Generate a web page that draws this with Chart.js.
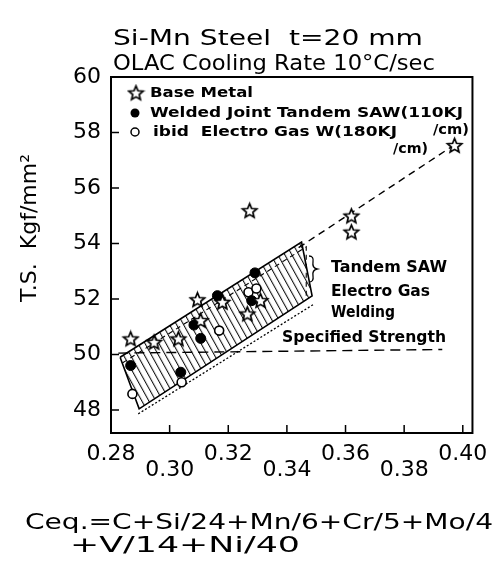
<!DOCTYPE html>
<html>
<head>
<meta charset="utf-8">
<script src="https://cdn.jsdelivr.net/npm/chart.js@4.4.1/dist/chart.umd.min.js"></script>
<style>
  html, body { margin: 0; padding: 0; background: #fff; }
</style>
</head>
<body>
<canvas id="ts" width="501" height="561"></canvas>
<script>
const FONT = '"DejaVu Sans", sans-serif';

// axis ticks
const xTicks = [0.28, 0.30, 0.32, 0.34, 0.36, 0.38, 0.40];
const yTicks = [48, 50, 52, 54, 56, 58, 60];

// base metal (stars)
const baseX = [0.2867, 0.2947, 0.3030, 0.3095, 0.3106, 0.3180, 0.3265, 0.3310, 0.3273, 0.3620, 0.3620, 0.3972];
const baseY = [50.56, 50.44, 50.56, 51.97, 51.22, 51.88, 51.46, 51.94, 55.18, 54.99, 54.41, 57.53];

// welded joint, tandem SAW (filled circles)
const sawX = [0.2867, 0.3038, 0.3083, 0.3106, 0.3163, 0.3280, 0.3291];
const sawY = [49.60, 49.36, 51.06, 50.58, 52.12, 51.94, 52.94];

// ibid, electro gas welding (open circles)
const egwX = [0.2873, 0.3041, 0.3169, 0.3269, 0.3296];
const egwY = [48.58, 49.00, 50.86, 52.24, 52.38];

// hatched scatter band of the welded joints
const bandX = [0.2831, 0.3450, 0.3486, 0.2896, 0.2831];
const bandY = [49.90, 54.05, 52.11, 48.04, 49.90];
const innerX = [0.2840, 0.3466, 0.3466];
const innerY = [49.70, 53.88, 52.05];
const lowerX = [0.2893, 0.3490];
const lowerY = [47.86, 51.80];

// base metal trend and specified strength
const trendX = [0.3440, 0.3985];
const trendY = [53.85, 57.65];
const specX = [0.2825, 0.3930];
const specY = [50.05, 50.18];

const pts = (xs, ys) => xs.map((x, i) => ({ x: x, y: ys[i] }));

function starImage(r) {
  const s = Math.ceil(r * 2 + 4);
  const c = document.createElement('canvas');
  c.width = s; c.height = s;
  const g = c.getContext('2d');
  g.beginPath();
  for (let i = 0; i < 10; i++) {
    const rr = i % 2 ? r * 0.45 : r;
    const a = -Math.PI / 2 + i * Math.PI / 5;
    g.lineTo(s / 2 + rr * Math.cos(a), s / 2 + 0.5 + rr * Math.sin(a));
  }
  g.closePath();
  g.fillStyle = '#fff'; g.fill();
  g.lineWidth = 1.7; g.strokeStyle = '#000'; g.stroke();
  return c;
}

const canvas = document.getElementById('ts');
const ctx0 = canvas.getContext('2d');

function hatch() {
  const t = document.createElement('canvas');
  t.width = 7; t.height = 7;
  const g = t.getContext('2d');
  g.fillStyle = '#111';
  g.fillRect(3, 0, 1.2, 7);
  const p = ctx0.createPattern(t, 'repeat');
  p.setTransform(new DOMMatrix().skewXSelf(29));
  return p;
}

const star = starImage(7.5);

function fitText(ctx, str, x, y, w, font) {
  ctx.font = font;
  const m = ctx.measureText(str).width;
  ctx.save();
  ctx.translate(x, y);
  ctx.scale(w / m, 1);
  ctx.fillText(str, 0, 0);
  ctx.restore();
}

const decor = {
  id: 'decor',
  afterDraw(chart) {
    const { ctx, chartArea: a, scales: { x, y } } = chart;
    ctx.save();
    ctx.strokeStyle = '#000';
    ctx.fillStyle = '#000';

    // frame and inward ticks
    ctx.lineWidth = 2;
    ctx.strokeRect(a.left, a.top, a.right - a.left, a.bottom - a.top);
    ctx.lineWidth = 1.5;
    ctx.beginPath();
    x.ticks.forEach(t => {
      const px = x.getPixelForValue(t.value);
      ctx.moveTo(px, a.bottom); ctx.lineTo(px, a.bottom - 8);
    });
    y.ticks.forEach(t => {
      const py = y.getPixelForValue(t.value);
      ctx.moveTo(a.left, py); ctx.lineTo(a.left + 8, py);
    });
    ctx.stroke();

    // brace beside the band
    ctx.lineWidth = 1.3;
    ctx.beginPath();
    ctx.moveTo(309, 256);
    ctx.quadraticCurveTo(314, 256, 313, 262);
    ctx.quadraticCurveTo(312, 268, 317, 269);
    ctx.quadraticCurveTo(312, 270, 313, 276);
    ctx.quadraticCurveTo(314, 282, 309, 282);
    ctx.stroke();

    ctx.textBaseline = 'middle';
    ctx.textAlign = 'left';

    // title
    fitText(ctx, 'Si-Mn Steel  t=20 mm', 113, 39, 310, '22px ' + FONT);
    fitText(ctx, 'OLAC Cooling Rate 10°C/sec', 113, 64, 322, '22px ' + FONT);

    // legend
    ctx.drawImage(star, 136 - star.width / 2, 93 - star.height / 2);
    ctx.beginPath(); ctx.arc(135, 113, 4.5, 0, Math.PI * 2); ctx.fill();
    ctx.beginPath(); ctx.arc(135, 132, 4, 0, Math.PI * 2);
    ctx.fillStyle = '#fff'; ctx.fill(); ctx.lineWidth = 1.5; ctx.stroke();
    ctx.fillStyle = '#000';
    const lf = 'bold 14px ' + FONT;
    fitText(ctx, 'Base Metal', 150, 93, 103, lf);
    fitText(ctx, 'Welded Joint Tandem SAW(110KJ', 150, 113, 313, lf);
    fitText(ctx, 'ibid  Electro Gas W(180KJ', 153, 132, 244, lf);
    fitText(ctx, '/cm)', 433, 130, 36, lf);
    fitText(ctx, '/cm)', 393, 149, 35, lf);

    // band notes
    const nf = 'bold 16px ' + FONT;
    fitText(ctx, 'Tandem SAW', 331, 268, 116, nf);
    fitText(ctx, 'Electro Gas', 331, 292, 99, nf);
    fitText(ctx, 'Welding', 331, 313, 64, nf);
    fitText(ctx, 'Specified Strength', 282, 338, 164, nf);

    // y axis title
    ctx.save();
    ctx.translate(30, 228);
    ctx.rotate(-Math.PI / 2);
    ctx.textAlign = 'center';
    ctx.font = '22px ' + FONT;
    ctx.fillText('T.S.  Kgf/mm²', 0, 0);
    ctx.restore();

    // x axis caption
    fitText(ctx, 'Ceq.=C+Si/24+Mn/6+Cr/5+Mo/4', 25, 523, 468, '22px ' + FONT);
    fitText(ctx, '+V/14+Ni/40', 70, 546, 230, '22px ' + FONT);
    ctx.restore();
  }
};

new Chart(canvas, {
  type: 'line',
  data: {
    datasets: [
      { data: pts(baseX, baseY), showLine: false, pointStyle: star, order: 1 },
      { data: pts(sawX, sawY), showLine: false, pointStyle: 'circle', pointRadius: 5,
        backgroundColor: '#000', borderColor: '#000', borderWidth: 1, order: 2 },
      { data: pts(egwX, egwY), showLine: false, pointStyle: 'circle', pointRadius: 4.5,
        backgroundColor: '#fff', borderColor: '#000', borderWidth: 1.6, order: 3 },
      { data: pts(trendX, trendY), borderColor: '#000', borderWidth: 1.4, borderDash: [7, 5],
        pointRadius: 0, order: 5 },
      { data: pts(specX, specY), borderColor: '#000', borderWidth: 1.4, borderDash: [10, 6],
        pointRadius: 0, order: 6 },
      { data: pts(lowerX, lowerY), borderColor: '#000', borderWidth: 1.3, borderDash: [2, 2],
        pointRadius: 0, order: 7 },
      { data: pts(innerX, innerY), borderColor: '#000', borderWidth: 1.1, borderDash: [5, 4],
        pointRadius: 0, order: 8 },
      { data: pts(bandX, bandY), fill: 'shape', backgroundColor: hatch(), borderColor: '#000',
        borderWidth: 1.6, pointRadius: 0, order: 10 }
    ]
  },
  options: {
    responsive: false,
    animation: false,
    events: [],
    layout: { padding: { top: 77, right: 27, bottom: 78, left: 0 } },
    plugins: { legend: { display: false }, tooltip: { enabled: false } },
    scales: {
      x: {
        type: 'linear', min: 0.28, max: 0.4033,
        afterFit: s => { s.height = 50; },
        afterBuildTicks: s => { s.ticks = xTicks.map(v => ({ value: v })); },
        grid: { display: false, drawTicks: false },
        border: { display: false },
        ticks: {
          padding: 13, color: '#000', maxRotation: 0, autoSkip: false,
          font: { family: FONT, size: 22, lineHeight: 0.73 },
          callback: (v, i) => i % 2 ? ['', v.toFixed(2)] : [v.toFixed(2)]
        }
      },
      y: {
        min: 47.17, max: 60,
        afterFit: s => { s.width = 111; },
        afterBuildTicks: s => { s.ticks = yTicks.map(v => ({ value: v })); },
        grid: { display: false, drawTicks: false },
        border: { display: false },
        ticks: { padding: 10, color: '#000', font: { family: FONT, size: 22 }, callback: v => String(v) }
      }
    }
  },
  plugins: [decor]
});
</script>
</body>
</html>
